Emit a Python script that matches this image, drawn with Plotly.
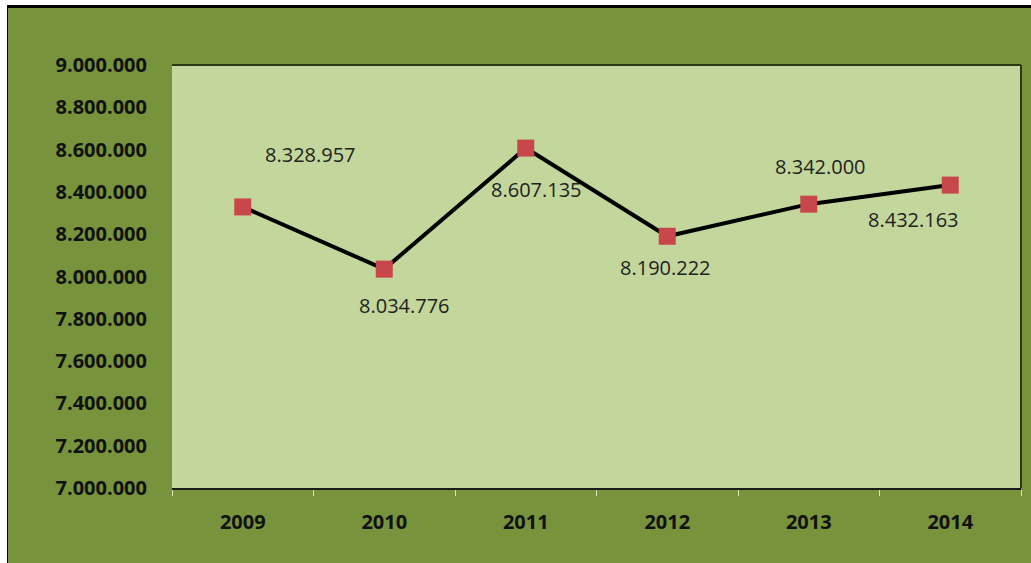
import plotly.graph_objects as go

# Yearly totals
years = ["2009", "2010", "2011", "2012", "2013", "2014"]
totals = [8328957, 8034776, 8607135, 8190222, 8342000, 8432163]

# Label offsets (px) relative to each point
label_dx = [68, 20, 11, -2, 12, -37]
label_dy = [52, -36, -41, -31, 38, -34]

OUTER = "#77933C"
INNER = "#C3D69B"
MARKER = "#C8474A"


def fmt(v):
    return f"{v:,}".replace(",", ".")


fig = go.Figure()
fig.add_trace(go.Scatter(
    x=years, y=totals, mode="lines+markers",
    line=dict(color="#000000", width=4),
    marker=dict(symbol="square", size=17, color=MARKER, line=dict(width=0)),
    hoverinfo="skip", showlegend=False,
))

# Value labels; category position given by index so numeric-looking
# year names are not read as coordinates
for i, (v, dx, dy) in enumerate(zip(totals, label_dx, label_dy)):
    fig.add_annotation(
        x=i, y=v, text=fmt(v), showarrow=False,
        xshift=dx, yshift=dy,
        font=dict(family="Open Sans", size=20, color="#222222"),
    )

# Outer frame: white strips on top/left with a black edge line
fig.add_shape(type="rect", xref="paper", yref="paper",
              x0=-172 / 849, x1=-164 / 849, y0=-75 / 423, y1=1 + 59 / 423,
              fillcolor="#000000", line=dict(width=0), layer="below")
fig.add_shape(type="rect", xref="paper", yref="paper",
              x0=-172 / 849, x1=1 + 10 / 849, y0=1 + 57 / 423, y1=1 + 60 / 423,
              fillcolor="#000000", line=dict(width=0), layer="below")
fig.add_shape(type="rect", xref="paper", yref="paper",
              x0=-172 / 849, x1=-165 / 849, y0=-75 / 423, y1=1 + 65 / 423,
              fillcolor="#FFFFFF", line=dict(width=0), layer="below")
fig.add_shape(type="rect", xref="paper", yref="paper",
              x0=-172 / 849, x1=1 + 10 / 849, y0=1 + 60 / 423, y1=1 + 65 / 423,
              fillcolor="#FFFFFF", line=dict(width=0), layer="below")
# Plot-area edge lines on top and right
fig.add_shape(type="line", xref="paper", yref="paper",
              x0=0, x1=1, y0=1, y1=1, line=dict(color="#2A3A14", width=2))
fig.add_shape(type="line", xref="paper", yref="paper",
              x0=1, x1=1, y0=0, y1=1, line=dict(color="#2A3A14", width=2))

fig.update_layout(
    width=1031, height=563,
    margin=dict(l=172, r=10, t=65, b=75),
    paper_bgcolor=OUTER, plot_bgcolor=INNER,
    separators=",.",
    xaxis=dict(
        type="category", range=[-0.5, 5.5],
        showgrid=False, zeroline=False,
        showline=True, linecolor="#1A1A1A", linewidth=2,
        ticks="outside", tickson="boundaries", ticklen=6, tickwidth=1,
        tickcolor="#D6E3B5", ticklabelstandoff=15,
        tickfont=dict(family="Open Sans", size=20, color="#111111", weight="bold"),
    ),
    yaxis=dict(
        range=[7000000, 9000000], dtick=200000, tickformat=",d",
        showgrid=False, zeroline=False, showline=False, ticks="",
        ticklabelstandoff=24,
        tickfont=dict(family="Open Sans", size=20, color="#111111", weight="bold"),
    ),
)

fig.write_html("out.html")
